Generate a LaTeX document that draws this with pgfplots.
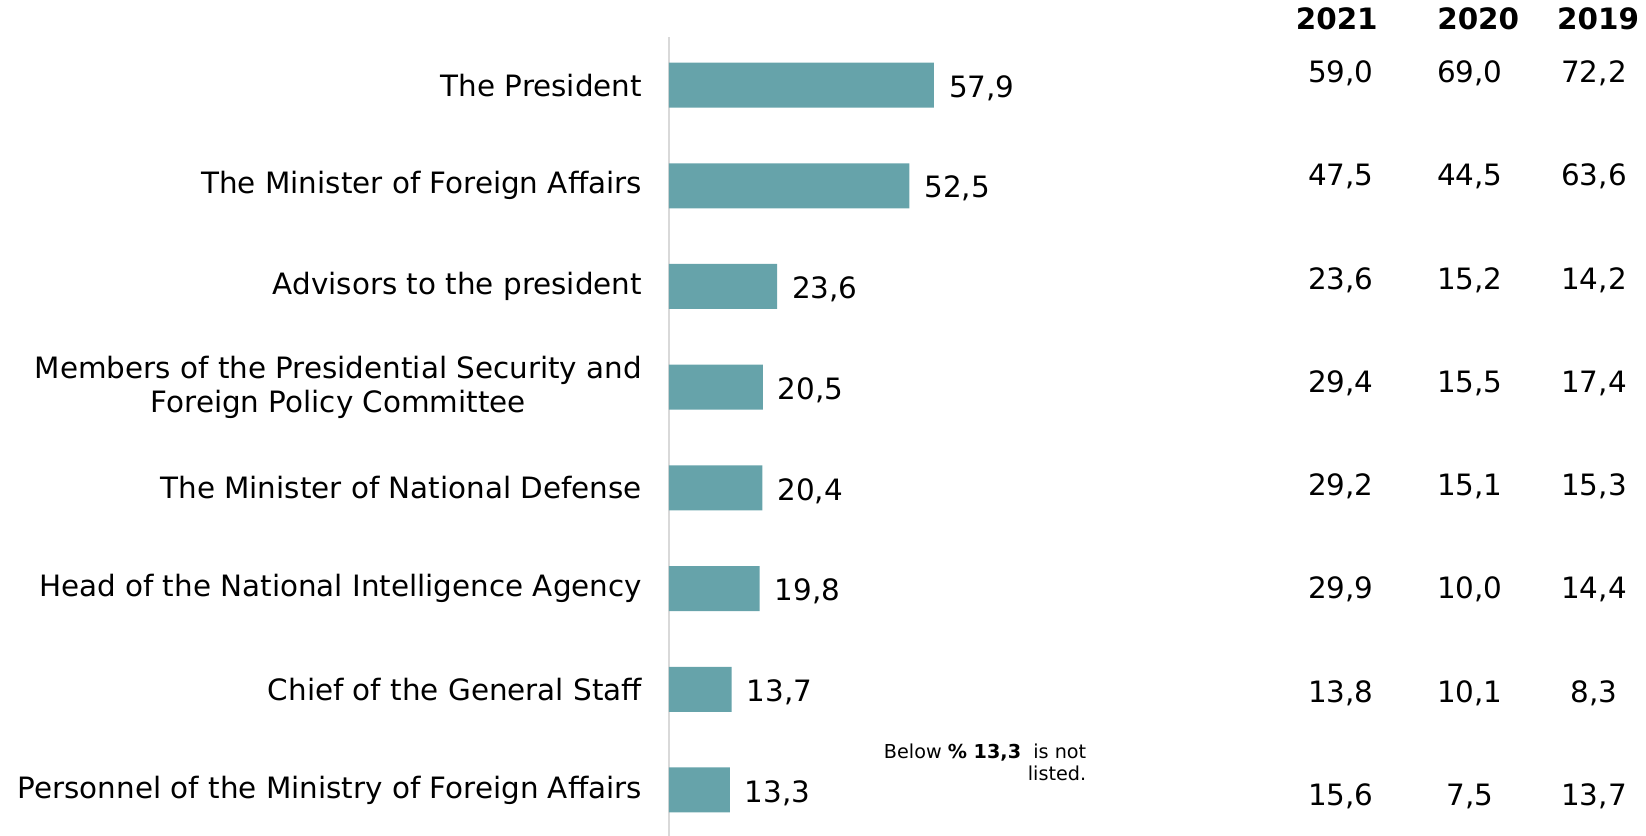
\documentclass[border=0pt]{standalone}
\usepackage{fontspec}
\setmainfont{DejaVu Sans}
\usepackage{pgfplots}
\pgfplotsset{compat=1.18}
\usepackage{pgfplotstable}
\definecolor{barteal}{HTML}{66A3AA}
\definecolor{axisgray}{HTML}{D9D9D9}
\newcommand{\lbl}{\fontsize{14.7pt}{17pt}\selectfont}

\pgfplotstableread{
y v
0 57.9
1 52.5
2 23.6
3 20.5
4 20.4
5 19.8
6 13.7
7 13.3
}\bars

\pgfplotstableread{
y a b c
-0.114 59,0 69,0 72,2
0.911 47,5 44,5 63,6
1.936 23,6 15,2 14,2
2.961 29,4 15,5 17,4
3.986 29,2 15,1 15,3
5.011 29,9 10,0 14,4
6.036 13,8 10,1 8,3
7.061 15,6 7,5 13,7
}\years

\begin{document}
\begin{tikzpicture}
\path[use as bounding box] (-334.5pt,0pt) rectangle (488.5pt,418pt);
\begin{axis}[
  scale only axis,
  width=228.85pt, height=399.5pt,
  xmin=0, xmax=100,
  ymin=-0.477, ymax=7.457,
  y dir=reverse,
  clip=false,
  axis x line=none,
  axis y line*=left,
  axis line style={-, draw=axisgray, line width=1pt},
  ytick={0,...,7},
  major tick length=0pt,
  yticklabels={The President, The Minister of Foreign Affairs, Advisors to the president, {Members of the Presidential Security and\\Foreign Policy Committee}, The Minister of National Defense, Head of the National Intelligence Agency, Chief of the General Staff, Personnel of the Ministry of Foreign Affairs},
  yticklabel style={font=\lbl, align=center, anchor=east, xshift=-10pt},
  /pgf/number format/assume math mode=true,
]
\addplot[xbar, bar width=22.5pt, fill=barteal, draw=none,
  nodes near coords,
  nodes near coords style={font=\lbl, anchor=west, xshift=4pt, yshift=-1.5pt,
    /pgf/number format/.cd, fixed, fixed zerofill, precision=1, use comma},
] table[x=v, y=y] {\bars};

\addplot[draw=none, mark=none, nodes near coords, point meta=explicit symbolic,
  nodes near coords style={font=\lbl, anchor=center}] table[x expr=146.8, y=y, meta=a] {\years};
\addplot[draw=none, mark=none, nodes near coords, point meta=explicit symbolic,
  nodes near coords style={font=\lbl, anchor=center}] table[x expr=175.0, y=y, meta=b] {\years};
\addplot[draw=none, mark=none, nodes near coords, point meta=explicit symbolic,
  nodes near coords style={font=\lbl, anchor=center}] table[x expr=202.1, y=y, meta=c] {\years};

\node[font=\lbl\bfseries, anchor=center] at (axis cs:145.9,-0.655) {2021};
\node[font=\lbl\bfseries, anchor=center] at (axis cs:176.8,-0.655) {2020};
\node[font=\lbl\bfseries, anchor=center] at (axis cs:203.0,-0.655) {2019};

\node[font=\fontsize{9.6pt}{11pt}\selectfont, align=right, anchor=east] at (axis cs:92.7,6.73)
  {Below \textbf{\% 13,3}\ \ is not\\listed.};
\end{axis}
\end{tikzpicture}
\end{document}
